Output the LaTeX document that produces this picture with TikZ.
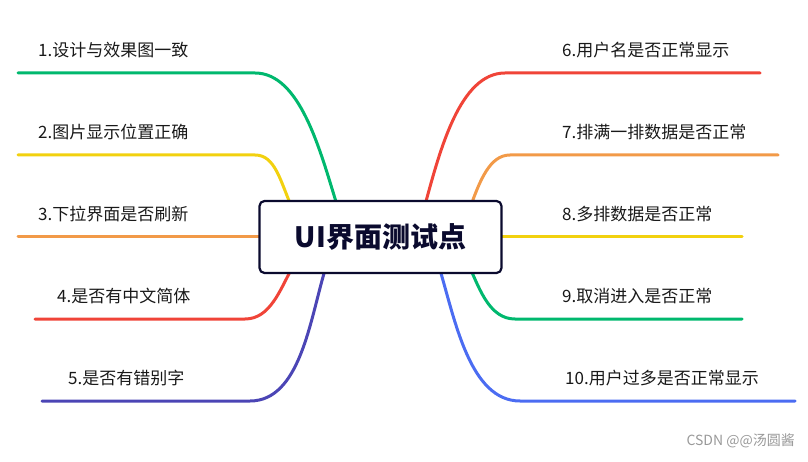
\documentclass[tikz,border=0pt]{standalone}
\usepackage{fontspec}
\setmainfont{Noto Sans CJK SC}
\definecolor{cg}{HTML}{00B86E}
\definecolor{cy}{HTML}{F2D10F}
\definecolor{co}{HTML}{F29A48}
\definecolor{cr}{HTML}{F04438}
\definecolor{ci}{HTML}{4B45B5}
\definecolor{cb}{HTML}{4B6CF2}
\definecolor{navy}{HTML}{0A0A2E}
\begin{document}
\begin{tikzpicture}[x=1pt,y=-1pt,
  br/.style={line width=3pt,line cap=round},
  lbl/.style={anchor=west,font=\fontsize{17}{20}\selectfont,text=black!90,inner sep=0pt}]
\useasboundingbox (0,0) rectangle (808,462);
% left branches
\draw[br,cg] (18,73) -- (255,73) .. controls (300,73) and (320,150) .. (337,205);
\draw[br,cy] (18,155) -- (255,155) .. controls (275,155) and (280,180) .. (292,208);
\draw[br,co] (18,237) -- (262,237);
\draw[br,cr] (35,319) -- (245,319) .. controls (270,319) and (280,290) .. (292,268);
\draw[br,ci] (42,401) -- (250,401) .. controls (300,401) and (310,320) .. (325,270);
% right branches
\draw[br,cr] (760,73) -- (505,73) .. controls (460,73) and (440,150) .. (425,205);
\draw[br,co] (778,155) -- (510,155) .. controls (490,155) and (480,180) .. (470,208);
\draw[br,cy] (742,237) -- (498,237);
\draw[br,cg] (742,319) -- (515,319) .. controls (490,319) and (480,290) .. (470,268);
\draw[br,cb] (795,401) -- (520,401) .. controls (470,401) and (455,320) .. (440,270);
% center
\node[draw=navy,line width=2.2pt,rounded corners=5pt,fill=white,minimum width=242pt,minimum height=72pt,
  font=\fontsize{28}{32}\selectfont\bfseries,text=navy] (c) at (380.5,237) {UI界面测试点};
% labels
\node[lbl] (l1) at (38,50) {1.设计与效果图一致};
\node[lbl] (l2) at (38,132) {2.图片显示位置正确};
\node[lbl] (l3) at (38,214) {3.下拉界面是否刷新};
\node[lbl] (l4) at (57,296) {4.是否有中文简体};
\node[lbl] (l5) at (68,378) {5.是否有错别字};
\node[lbl] (r6) at (562,50) {6.用户名是否正常显示};
\node[lbl] (r7) at (562,132) {7.排满一排数据是否正常};
\node[lbl] (r8) at (562,214) {8.多排数据是否正常};
\node[lbl] (r9) at (562,296) {9.取消进入是否正常};
\node[lbl] (r10) at (565,378) {10.用户过多是否正常显示};
\node[anchor=east,inner sep=0pt,text=gray!80,font=\fontsize{14}{16}\selectfont] (wm) at (795,441) {CSDN @@汤圆酱};
\end{tikzpicture}
\end{document}
